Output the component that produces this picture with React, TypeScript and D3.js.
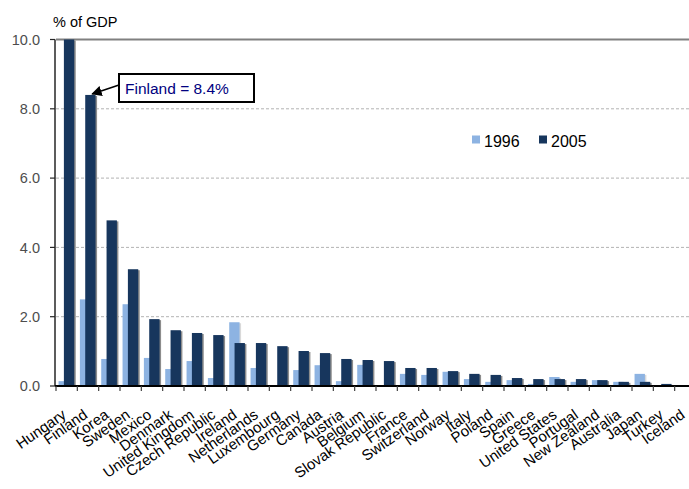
import React from "react";
import * as d3 from "d3";

const countries = ["Hungary","Finland","Korea","Sweden","Mexico","Denmark","United Kingdom","Czech Republic","Ireland","Netherlands","Luxembourg","Germany","Canada","Austria","Belgium","Slovak Republic","France","Switzerland","Norway","Italy","Poland","Spain","Greece","United States","Portugal","New Zealand","Australia","Japan","Turkey","Iceland"];
const v1996 = [0.14,2.5,0.78,2.36,0.81,0.49,0.72,0.23,1.84,0.52,0,0.46,0.6,0.14,0.61,0,0.35,0.32,0.41,0.2,0.12,0.17,0.06,0.26,0.12,0.17,0.12,0.35,0,0];
const v2005 = [10.4,8.4,4.78,3.37,1.93,1.61,1.53,1.47,1.24,1.24,1.15,1.01,0.95,0.78,0.75,0.72,0.52,0.52,0.43,0.35,0.32,0.23,0.2,0.2,0.2,0.17,0.12,0.12,0.06,0.02];
const yTicks = [0,2,4,6,8,10];
const seriesNames = ["1996","2005"];
const colors = ["#8DB3E2","#17365D"];

const W = 689, H = 489;
const left = 56, right = 696, top = 39.5, bottom = 386;

export default function App() {
  const x = d3.scaleBand<string>().domain(countries).range([left, right]).paddingInner(0).paddingOuter(0);
  const y = d3.scaleLinear().domain([0, 10]).range([bottom, top]).clamp(true);
  const bw = x.bandwidth();
  const barW = bw * 0.485;
  const font = "Arial, 'Liberation Sans', sans-serif";
  const finlandX = (x("Finland") as number) + bw * 0.36 + barW / 2;
  const finlandY = y(v2005[1]);
  return (
    <svg width={W} height={H} style={{ position: "absolute", left: 0, top: 0, fontFamily: font }}>
      <rect x={0} y={0} width={W} height={H} fill="#fff" />
      {/* grid */}
      {yTicks.filter(t => t > 0 && t < 10).map(t => (
        <line key={t} x1={left} x2={W} y1={y(t)} y2={y(t)} stroke="#b3b3b3" strokeWidth={1} strokeDasharray="3,2" />
      ))}
      <line x1={left} x2={W} y1={y(10)} y2={y(10)} stroke="#808080" strokeWidth={2} />
      {/* bars */}
      {countries.map((c, i) => {
        const x0 = x(c) as number;
        const lx = x0 + bw * 0.12;
        const dx = x0 + bw * 0.37;
        return (
          <g key={c}>
            {v1996[i] > 0 && <rect x={lx + 1.5} y={y(v1996[i]) + 1} width={barW} height={bottom - y(v1996[i]) - 1} fill="#d9d9d9" />}
            {v1996[i] > 0 && <rect x={lx} y={y(v1996[i])} width={barW} height={bottom - y(v1996[i])} fill={colors[0]} />}
            <rect x={dx + 1.5} y={y(v2005[i]) + 1} width={barW} height={bottom - y(v2005[i]) - 1} fill="#8c8c8c" />
            <rect x={dx} y={y(v2005[i])} width={barW} height={bottom - y(v2005[i])} fill={colors[1]} />
          </g>
        );
      })}
      {/* y axis */}
      <line x1={55} x2={55} y1={y(10)} y2={bottom} stroke="#262626" strokeWidth={1.5} />
      {yTicks.map(t => (
        <g key={t}>
          <line x1={50} x2={55} y1={y(t)} y2={y(t)} stroke="#262626" strokeWidth={1.2} />
          <text x={40} y={y(t)} dy="0.36em" textAnchor="end" fontSize={14.5} fill="#4d4d4d">{t.toFixed(1)}</text>
        </g>
      ))}
      <text x={53} y={27} fontSize={14.5} fill="#000">% of GDP</text>
      {/* x axis */}
      <line x1={55} x2={W} y1={bottom} y2={bottom} stroke="#000" strokeWidth={2} />
      {countries.map(c => (
        <line key={"t" + c} x1={x(c) as number} x2={x(c) as number} y1={bottom} y2={bottom + 5} stroke="#404040" strokeWidth={1.2} />
      ))}
      {countries.map(c => {
        const cx = (x(c) as number) + bw / 2 + 0.5;
        return (
          <text key={"l" + c} transform={`translate(${cx},417) rotate(-35)`} textAnchor="end" fontSize={15} fill="#000">{c}</text>
        );
      })}
      {/* legend */}
      {seriesNames.map((s, i) => (
        <g key={s} transform={`translate(${472 + i * 67},0)`}>
          <rect x={0} y={135.5} width={8} height={8} fill={colors[i]} />
          <text x={12} y={147} fontSize={16} fill="#000">{s}</text>
        </g>
      ))}
      {/* annotation */}
      <defs>
        <marker id="arr" viewBox="0 0 10 10" refX={9} refY={5} markerWidth={7} markerHeight={7} orient="auto">
          <path d="M0,0 L10,5 L0,10 z" fill="#000" />
        </marker>
      </defs>
      <line x1={119} y1={85} x2={finlandX + 2} y2={finlandY - 1} stroke="#000" strokeWidth={1.5} markerEnd="url(#arr)" />
      <rect x={119} y={74} width={135} height={28} fill="#fff" stroke="#000" strokeWidth={2} />
      <text x={125} y={94.3} fontSize={15.5} fill="#000080">Finland = 8.4%</text>
    </svg>
  );
}
